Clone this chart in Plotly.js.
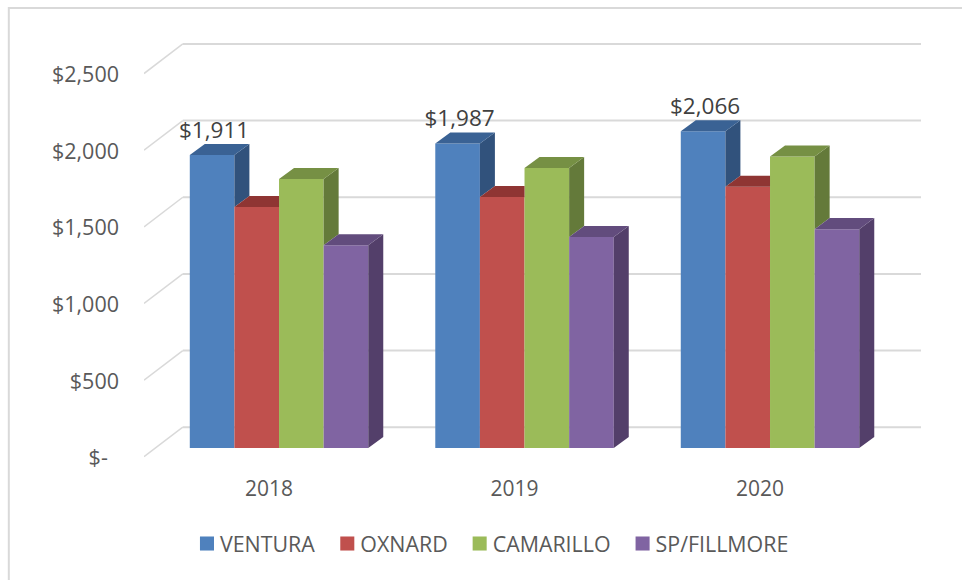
<!DOCTYPE html>
<html>
<head>
<meta charset="utf-8">
<script src="https://cdn.plot.ly/plotly-3.0.1.min.js"></script>
<style>html,body{margin:0;padding:0;background:#fff;overflow:hidden}#chart{width:962px;height:580px}</style>
</head>
<body>
<div id="chart"></div>
<script>
const categories = ['2018', '2019', '2020'];
const ventura = [1911, 1987, 2066];
const oxnard = [1572, 1637, 1705];
const camarillo = [1755, 1827, 1902];
const spFillmore = [1323, 1376, 1428];
const seriesNames = ['VENTURA', 'OXNARD', 'CAMARILLO', 'SP/FILLMORE'];
const frontColors = ['#4f81bd', '#c0504d', '#9bbb59', '#8064a2'];
const sideColors = ['#31527c', '#753331', '#647a3a', '#533f6a'];
const topColors = ['#3a6294', '#8f3533', '#769044', '#624c7d'];
const gridValues = [0, 500, 1000, 1500, 2000, 2500];
const gridLabels = ['$-\u00a0\u00a0', '$500', '$1,000', '$1,500', '$2,000', '$2,500'];

const seriesValues = [ventura, oxnard, camarillo, spFillmore];
const FONT = '"Open Sans", sans-serif';
const bargap = 0.273;
const barW = (1 - bargap) / seriesValues.length;
const depthX = 0.0611, depthY = 72;
const frontShift = -57, backShift = 136, tickShift = -63;
const wallX = -0.392, xMin = -0.55, xMax = 2.615;
const labelShift = -0.041;
const axisX = categories.map((_, i) => i);

const traces = seriesValues.map((vals, s) => ({
  type: 'bar', name: seriesNames[s], x: axisX, y: vals,
  marker: {color: frontColors[s], line: {width: 0}},
  hoverinfo: 'x+y'
}));

seriesValues.forEach((vals, s) => {
  const side = {x: [], y: []}, top = {x: [], y: []};
  vals.forEach((v, c) => {
    const xl = c - (1 - bargap) / 2 + s * barW, xr = xl + barW;
    const next = s < seriesValues.length - 1 ? seriesValues[s + 1][c] : 0;
    if (next < v) {
      side.x.push(xr, xr + depthX, xr + depthX, xr, xr, null);
      side.y.push(v, v + depthY, next + depthY, next, v, null);
      top.x.push(xl, xl + depthX, xr + depthX, xr, xl, null);
    } else {
      top.x.push(xl, xl + depthX, xr, xr, xl, null);
    }
    top.y.push(v, v + depthY, v + depthY, v, v, null);
  });
  traces.push({type: 'scatter', mode: 'lines', x: side.x, y: side.y, fill: 'toself',
    fillcolor: sideColors[s], line: {width: 0}, showlegend: false, hoverinfo: 'skip'});
  traces.push({type: 'scatter', mode: 'lines', x: top.x, y: top.y, fill: 'toself',
    fillcolor: topColors[s], line: {width: 0}, showlegend: false, hoverinfo: 'skip'});
});

traces.push({
  type: 'scatter', mode: 'text', showlegend: false, hoverinfo: 'skip',
  x: axisX.map(c => c - (1 - bargap) / 2 + barW / 2 + 0.008),
  y: ventura.map(v => v + 78),
  text: ventura.map(v => '$' + v.toLocaleString('en-US')),
  textposition: 'top center', cliponaxis: false,
  textfont: {family: FONT, size: 22.5, color: '#404040'}
});

const shapes = [{
  type: 'rect', xref: 'paper', yref: 'paper', layer: 'below',
  x0: -0.174, x1: 1.5, y0: -1, y1: 1.0514,
  line: {color: '#d9d9d9', width: 2}
}];
gridValues.forEach(v => {
  shapes.push({type: 'line', xref: 'x', yref: 'y', layer: 'below', x0: xMin, y0: v + frontShift,
    x1: wallX, y1: v + backShift, line: {color: '#d9d9d9', width: 1.5}});
  shapes.push({type: 'line', xref: 'x', yref: 'y', layer: 'below', x0: wallX, y0: v + backShift,
    x1: xMax, y1: v + backShift, line: {color: '#d9d9d9', width: 2}});
});

const layout = {
  width: 962, height: 580,
  margin: {l: 144, r: 41, t: 30, b: 122, pad: 0},
  paper_bgcolor: '#ffffff', plot_bgcolor: 'rgba(0,0,0,0)',
  barmode: 'group', bargap: bargap, bargroupgap: 0,
  showlegend: true,
  legend: {orientation: 'h', x: 0.0463, xanchor: 'left', y: -0.2, yanchor: 'middle',
    font: {family: FONT, size: 21.4, color: '#595959'}, bgcolor: 'rgba(0,0,0,0)'},
  xaxis: {
    range: [xMin, xMax], fixedrange: true, showgrid: false, zeroline: false, showline: false,
    tickmode: 'array', tickvals: axisX.map(c => c + labelShift), ticktext: categories, ticks: '',
    ticklabelstandoff: 16,
    tickfont: {family: FONT, size: 21, color: '#595959'}
  },
  yaxis: {
    range: [-65, 2727], fixedrange: true, showgrid: false, zeroline: false, showline: false,
    tickmode: 'array', tickvals: gridValues.map(v => v + tickShift), ticktext: gridLabels, ticks: '',
    ticklabelstandoff: 24,
    tickfont: {family: FONT, size: 21.5, color: '#595959'}
  },
  shapes: shapes
};
Plotly.newPlot('chart', traces, layout, {displayModeBar: false, staticPlot: true}).then(() => {
  // Slightly larger legend swatches, closer to their labels.
  document.querySelectorAll('.legend .legendbar path, .legend .legendpoints path').forEach(p => {
    if (p.getAttribute('d')) p.setAttribute('transform', 'translate(27,0) scale(1.17)');
  });
});
</script>
</body>
</html>
